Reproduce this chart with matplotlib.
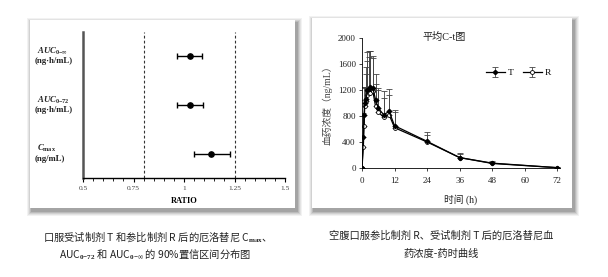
import matplotlib
matplotlib.use("Agg")
import matplotlib.pyplot as plt
from matplotlib.patches import Rectangle
from matplotlib.ticker import MultipleLocator

plt.rcParams['mathtext.fontset'] = 'custom'
plt.rcParams['mathtext.rm'] = 'Liberation Serif:bold'
plt.rcParams['mathtext.it'] = 'Liberation Serif:bold:italic'
plt.rcParams['mathtext.bf'] = 'Liberation Serif:bold'

# ---- forest plot data ----
params = [r"$AUC_{0\mathrm{-}\infty}$", r"$AUC_{0\mathrm{-}72}$", r"$C_{\mathrm{max}}$"]
units = ["(ng·h/mL)", "(ng·h/mL)", "(ng/mL)"]
ratio = [1.03, 1.03, 1.135]
ci_low = [0.965, 0.965, 1.05]
ci_high = [1.09, 1.095, 1.23]
limits = [0.8, 1.25]
ratio_ticks = [0.5, 0.75, 1, 1.25, 1.5]
ratio_tick_labels = ["0.5", "0.75", "1", "1.25", "1.5"]

# ---- concentration-time data ----
time_h = [0, 0.5, 0.75, 1, 1.5, 2, 2.5, 3, 4, 5, 6, 8, 10, 12, 24, 36, 48, 72]
conc_T = [0, 470, 820, 1000, 1060, 1200, 1210, 1240, 1230, 1050, 920, 820, 870, 650, 410, 160, 75, 5]
sd_T = [0, 380, 430, 250, 490, 580, 590, 560, 490, 400, 310, 360, 350, 250, 150, 70, 35, 5]
conc_R = [0, 330, 640, 950, 1030, 1130, 1150, 1160, 1180, 950, 860, 780, 820, 620, 400, 160, 70, 5]
sd_R = [0, 300, 400, 280, 420, 510, 560, 640, 520, 350, 340, 300, 310, 240, 110, 50, 30, 3]
time_ticks = [0, 12, 24, 36, 48, 60, 72]
conc_ticks = [0, 400, 800, 1200, 1600, 2000]

W, H = 608, 277
fig = plt.figure(figsize=(W / 100, H / 100), dpi=100)
fig.patch.set_facecolor('white')

def px(x, y, w, h):
    return [x / W, 1 - (y + h) / H, w / W, h / H]

# card shadows and cards
bg = fig.add_axes([0, 0, 1, 1])
bg.set_xlim(0, W)
bg.set_ylim(H, 0)
bg.axis('off')
for (x0, y0, x1, y1) in [(30, 20, 295, 208), (312, 18, 572, 208)]:
    for i, a in enumerate([0.05, 0.06, 0.08, 0.10, 0.12]):
        d = 5 - i
        bg.add_patch(Rectangle((x0 - d + 2, y0 - d + 3), (x1 - x0) + 2 * d, (y1 - y0) + 2 * d,
                               facecolor='black', alpha=a, edgecolor='none'))
    bg.add_patch(Rectangle((x0, y0), x1 - x0, y1 - y0, facecolor='white', edgecolor='none'))

# captions
cap_font = ['Noto Sans CJK SC', 'DejaVu Sans']
cap_size = 7.4
bg.text(155, 236, "口服受试制剂 T 和参比制剂 R 后的厄洛替尼 C$_{\\mathrm{max}}$、", ha='center', va='center',
        fontsize=cap_size, family=cap_font, color='#222222')
bg.text(155, 254, "AUC$_{0\\mathrm{-}72}$ 和 AUC$_{0\\mathrm{-}\\infty}$ 的 90%置信区间分布图", ha='center', va='center',
        fontsize=cap_size, family=cap_font, color='#222222')
bg.text(441, 236, "空腹口服参比制剂 R、受试制剂 T 后的厄洛替尼血", ha='center', va='center',
        fontsize=cap_size, family=cap_font, color='#222222')
bg.text(441, 254, "药浓度-药时曲线", ha='center', va='center',
        fontsize=cap_size, family=cap_font, color='#222222')

# ---- left: forest plot ----
ax1 = fig.add_axes(px(83, 32, 202, 146))
ypos = [2.5, 1.5, 0.5]
xerr = [[r - l for r, l in zip(ratio, ci_low)], [h - r for r, h in zip(ratio, ci_high)]]
ax1.errorbar(ratio, ypos, xerr=xerr, fmt='o', color='black', ms=3.8, elinewidth=1,
             capsize=2.5, capthick=1)
for lim in limits:
    ax1.axvline(lim, color='#333333', lw=0.8, ls=(0, (2.5, 2)))
ax1.set_xlim(0.5, 1.5)
ax1.set_ylim(0, 3)
ax1.set_xticks(ratio_ticks)
ax1.set_xticklabels(ratio_tick_labels, family='Liberation Serif', fontsize=5.3, color='#444444')
ax1.xaxis.set_minor_locator(MultipleLocator(0.05))
ax1.tick_params(axis='x', which='major', length=3, width=0.8, direction='out', pad=3)
ax1.tick_params(axis='x', which='minor', length=2, width=0.6, direction='out')
ax1.set_yticks([])
for s in ['top', 'right']:
    ax1.spines[s].set_visible(False)
ax1.spines['left'].set_color('#555555')
ax1.spines['left'].set_linewidth(1.8)
ax1.spines['bottom'].set_linewidth(1.0)
ax1.set_xlabel("RATIO", family='Liberation Serif', fontweight='bold', fontsize=6, labelpad=4)
for p, u, y in zip(params, units, ypos):
    yy = 32 + 146 * (3 - y) / 3
    bg.text(37, yy - 5, p, ha='left', va='center', fontsize=6.3, color='#222222')
    bg.text(35, yy + 5, u, ha='left', va='center', fontsize=6.3, family='Liberation Serif',
            fontweight='bold', color='#222222')

# ---- right: concentration-time curve ----
ax2 = fig.add_axes(px(362, 38, 198, 130))
serif = ['Liberation Serif', 'Noto Sans CJK SC']
ax2.errorbar(time_h, conc_R, yerr=[[0] * len(sd_R), sd_R], fmt='-o', color='black', lw=0.9,
             ms=2.8, mfc='white', mec='black', mew=0.6, elinewidth=0.6, ecolor='#444444',
             capsize=2, capthick=0.6, label='R')
ax2.errorbar(time_h, conc_T, yerr=[[0] * len(sd_T), sd_T], fmt='-D', color='black', lw=0.9,
             ms=2.2, mfc='black', mec='black', elinewidth=0.6, ecolor='#444444',
             capsize=2, capthick=0.6, label='T')
ax2.set_xlim(0, 73)
ax2.set_ylim(0, 2000)
ax2.set_xticks(time_ticks)
ax2.set_yticks(conc_ticks)
ax2.tick_params(labelsize=6.5, length=2.5, width=0.6, pad=2, colors='#222222')
ax2.tick_params(axis='x', pad=4)
for lab in ax2.get_xticklabels() + ax2.get_yticklabels():
    lab.set_family('Liberation Serif')
for s in ['top', 'right']:
    ax2.spines[s].set_visible(False)
for s in ['left', 'bottom']:
    ax2.spines[s].set_linewidth(0.6)
ax2.set_xlabel("时间 (h)", family=serif, fontsize=7, labelpad=7, color='#222222')
ax2.set_ylabel("血药浓度（ng/mL）", family=serif, fontsize=7, labelpad=4, color='#444444')
ax2.text(0.415, 1.05, "平均C-t图", transform=ax2.transAxes, ha='center', va='top',
         family=serif, fontsize=7.3, color='#222222')
h, l = ax2.get_legend_handles_labels()
ax2.legend(h[::-1], l[::-1], loc='center', bbox_to_anchor=(0.79, 0.73), ncol=2, frameon=False,
           prop={'family': 'Liberation Serif', 'size': 6.8}, handlelength=2.0, handletextpad=0.3,
           columnspacing=1.0)

fig.savefig("out.png", dpi=100, facecolor='white')
